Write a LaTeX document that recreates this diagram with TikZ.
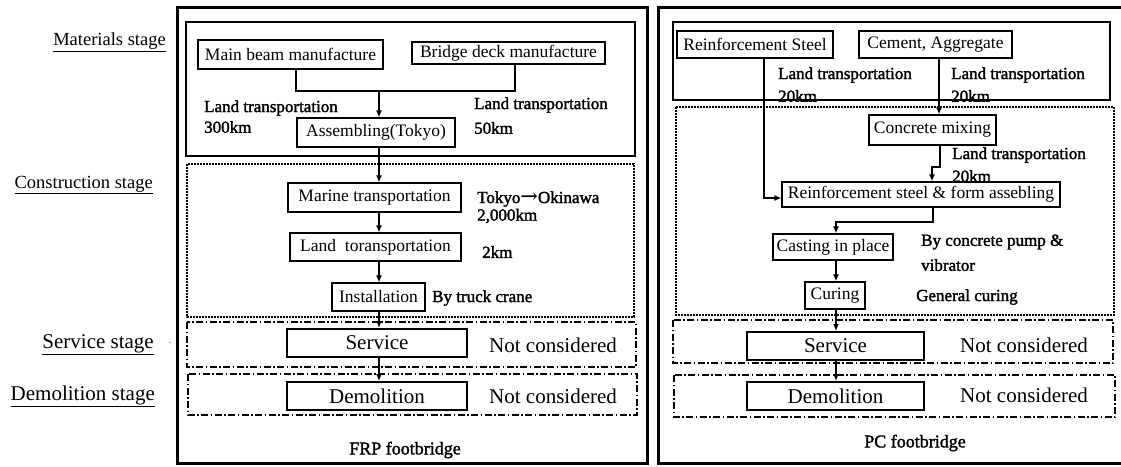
\documentclass[tikz,border=0pt]{standalone}
\usepackage{fontspec}
\setmainfont{Liberation Serif}
\newfontfamily\lblfont[FakeBold=1.8]{Liberation Serif}
\newfontfamily\arrowfont{DejaVu Serif}
\usetikzlibrary{arrows.meta}
\begin{document}
\begin{tikzpicture}[x=1pt,y=-1pt,
  outer/.style={line width=3pt},
  matframe/.style={line width=1.8pt},
  dotframe/.style={line width=2.2pt,dash pattern=on 1.6pt off 1.4pt},
  ddframe/.style={line width=1.1pt,dash pattern=on 7pt off 2.5pt on 1.5pt off 2.5pt},
  box/.style={draw,line width=1.2pt,inner sep=0pt,font=\fontsize{17.5}{17.5}\selectfont},
  bigbox/.style={draw,line width=2pt,inner sep=0pt,font=\fontsize{21}{21}\selectfont},
  lbl/.style={anchor=west,inner sep=0pt,font=\lblfont\fontsize{17}{17}\selectfont},
  nc/.style={anchor=west,inner sep=0pt,font=\fontsize{21}{21}\selectfont},
  stagebig/.style={anchor=east,inner sep=0pt,font=\fontsize{21}{21}\selectfont},
  stagesm/.style={anchor=east,inner sep=0pt,font=\fontsize{18.5}{18.5}\selectfont},
  title/.style={inner sep=0pt,font=\lblfont\fontsize{18}{18}\selectfont},
  conL/.style={line width=2.4pt},
  conR/.style={line width=1.5pt},
  tip/.style={-{Latex[length=7pt,width=6pt]}}
]
\useasboundingbox (0,0) rectangle (1121,466);

% frames
\draw[outer] (177,7) rectangle (647,463);
\draw[outer] (658,7) rectangle (1128,463);
\draw[matframe] (186,22) rectangle (635,156);
\draw[dotframe] (187,164) rectangle (634,317);
\draw[ddframe] (187,322) rectangle (636,367);
\draw[ddframe] (188,374) rectangle (637,415);
\draw[matframe] (673,22) rectangle (1110,100);
\draw[dotframe] (676,107) rectangle (1114,315);
\draw[ddframe] (673,320) rectangle (1113,363);
\draw[ddframe] (674,375) rectangle (1115,417);

% stage labels
\node[stagesm] (s1) at (166,42) {\underline{Materials stage}};
\node[stagesm] (s2) at (153,185) {\underline{Construction stage}};
\node[stagebig] (s3) at (154,345) {\underline{Service stage}};
\node[stagebig] (s4) at (155,396) {\underline{Demolition stage}};
\node[inner sep=0pt,font=\fontsize{8}{8}\selectfont] (dot) at (170,343) {.};

% left boxes
\node[box,minimum width=185pt,minimum height=29pt] (mainbeam) at (290.5,54.5) {Main beam manufacture};
\node[box,minimum width=193pt,minimum height=22pt] (deck) at (508.5,53) {Bridge deck manufacture};
\node[box,minimum width=158pt,minimum height=29pt] (assembling) at (376,132.5) {Assembling(Tokyo)};
\node[box,minimum width=173pt,minimum height=29pt] (marine) at (374.5,197.5) {Marine transportation};
\node[box,minimum width=171pt,minimum height=28pt] (landtor) at (375.5,247) {Land\enspace toransportation};
\node[box,minimum width=93pt,minimum height=28pt] (install) at (378.5,297) {Installation};
\node[bigbox,minimum width=180pt,minimum height=28pt] (serviceL) at (377,343) {Service};
\node[bigbox,minimum width=180pt,minimum height=28pt] (demolL) at (377,396) {Demolition};

% left labels
\node[lbl] (l1) at (204,108) {Land transportation};
\node[lbl] (l1b) at (204,127) {300km};
\node[lbl] (l2) at (474,105) {Land transportation};
\node[lbl] (l2b) at (474,128) {50km};
\node[lbl] (l3) at (477,199) {Tokyo{\arrowfont\fontsize{21}{21}\selectfont→}Okinawa};
\node[lbl] (l3b) at (477,216) {2,000km};
\node[lbl] (l4) at (482,252) {2km};
\node[lbl] (l5) at (432,298) {By truck crane};
\node[nc] (nc1) at (489,345) {Not considered};
\node[nc] (nc2) at (489,396) {Not considered};
\node[title] (frp) at (405,450) {FRP footbridge};

% left connectors
\coordinate (jL) at (379,91);
\draw[conL] (mainbeam.south -| 296,0) |- (jL);
\draw[conL] (deck.south -| 515,0) |- (jL);
\draw[conL,tip] (jL) -- (assembling.north -| jL);
\draw[conL,tip] (assembling.south -| jL) -- (marine.north -| jL);
\draw[conL,tip] (marine.south -| jL) -- (landtor.north -| jL);
\draw[conL,tip] (landtor.south -| jL) -- (install.north -| jL);
\draw[conL,tip] (install.south -| jL) -- (serviceL.north -| jL);
\draw[conL,tip] (serviceL.south -| jL) -- (demolL.north -| jL);

% right boxes
\node[box,minimum width=156pt,minimum height=27pt] (reinfS) at (755,44.5) {Reinforcement Steel};
\node[box,minimum width=153pt,minimum height=27pt] (cement) at (935.5,44.5) {Cement, Aggregate};
\node[box,minimum width=127pt,minimum height=30pt] (mixing) at (932.5,130) {Concrete mixing};
\node[box,minimum width=278pt,minimum height=25pt] (reinfForm) at (921,194.5) {Reinforcement steel \& form assebling};
\node[box,minimum width=120pt,minimum height=26pt] (casting) at (833,247) {Casting in place};
\node[box,minimum width=60pt,minimum height=27pt] (curing) at (835,295.5) {Curing};
\node[bigbox,minimum width=177pt,minimum height=28pt] (serviceR) at (835.5,346) {Service};
\node[bigbox,minimum width=177pt,minimum height=28pt] (demolR) at (835.5,396) {Demolition};

% right labels
\node[lbl] (r1) at (778,75) {Land transportation};
\node[lbl] (r1b) at (778,96) {20km};
\node[lbl] (r2) at (951,75) {Land transportation};
\node[lbl] (r2b) at (951,96) {20km};
\node[lbl] (r3) at (952,155) {Land transportation};
\node[lbl] (r3b) at (952,176) {20km};
\node[lbl] (r4) at (921,242) {By concrete pump \&};
\node[lbl] (r4b) at (921,265) {vibrator};
\node[lbl] (r5) at (916,297) {General curing};
\node[nc] (nc3) at (960,345) {Not considered};
\node[nc] (nc4) at (960,395) {Not considered};
\node[title] (pc) at (915,443) {PC footbridge};

% right connectors
\coordinate (rA) at (764,198);
\draw[conR,tip] (reinfS.south -| rA) -- (rA) -- (reinfForm.west |- rA);
\draw[conR,tip] (cement.south -| 939,0) -- (mixing.north -| 939,0);
\coordinate (rB1) at (940,167);
\coordinate (rB2) at (932,167);
\draw[conR,tip] (mixing.south -| rB1) -- (rB1) -- (rB2) -- (reinfForm.north -| rB2);
\coordinate (rC1) at (933,222);
\coordinate (rC2) at (836,222);
\draw[conR,tip] (reinfForm.south -| rC1) -- (rC1) -- (rC2) -- (casting.north -| rC2);
\draw[conR,tip] (casting.south -| rC2) -- (curing.north -| rC2);
\draw[conR,tip] (curing.south -| rC2) -- (serviceR.north -| rC2);
\draw[conR,tip] (serviceR.south -| rC2) -- (demolR.north -| rC2);
\end{tikzpicture}
\end{document}
